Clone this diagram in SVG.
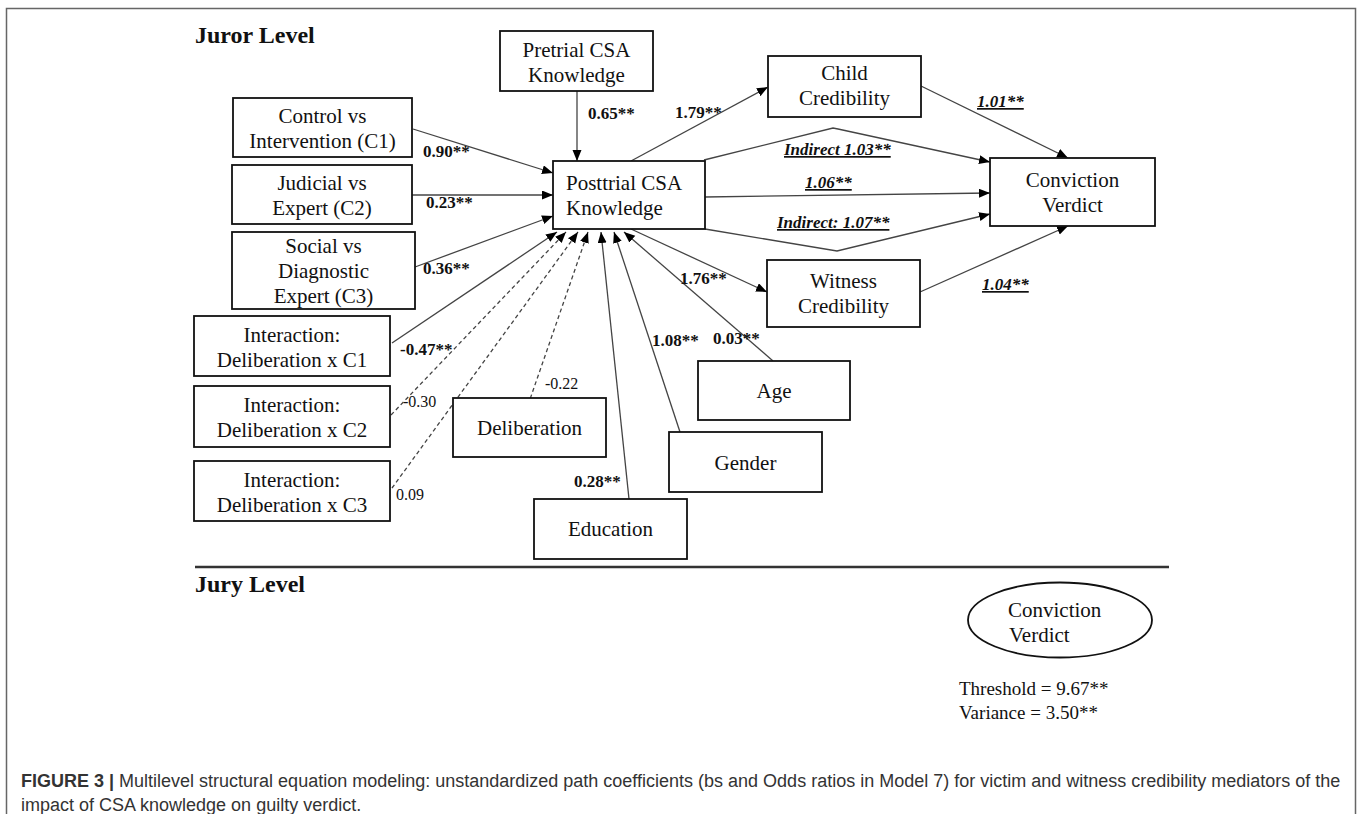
<svg xmlns="http://www.w3.org/2000/svg" width="1357" height="814" viewBox="0 0 1357 814">
<style>
.box{fill:#fff;stroke:#111;stroke-width:1.8}
.t{font-family:"Liberation Serif","Times New Roman",serif;font-size:21px;fill:#111}
.c{text-anchor:middle}
.lb{font-family:"Liberation Serif","Times New Roman",serif;font-size:17px;font-weight:bold;fill:#111}
.lr{font-family:"Liberation Serif","Times New Roman",serif;font-size:16px;fill:#111}
.li{font-family:"Liberation Serif","Times New Roman",serif;font-size:17px;font-weight:bold;font-style:italic;text-decoration:underline;fill:#111}
.h{font-family:"Liberation Serif","Times New Roman",serif;font-size:24px;font-weight:bold;fill:#111}
.e{fill:none;stroke:#444;stroke-width:1.3;marker-end:url(#ah)}
.d{stroke-dasharray:4 3}
.cap{font-family:"Liberation Sans",Arial,sans-serif;font-size:18px;fill:#333}
</style>
<defs>
<marker id="ah" markerUnits="userSpaceOnUse" markerWidth="12" markerHeight="10" refX="11" refY="4.5" orient="auto">
<path d="M0,0 L11,4.5 L0,9 z" fill="#000"/>
</marker>
</defs>
<rect width="1357" height="814" fill="#fff"/>
<path d="M6.5,814 V8.5 H1355.5 V814" fill="none" stroke="#666" stroke-width="1.5"/>

<text class="h" x="195" y="43">Juror Level</text>
<text class="h" x="195" y="592">Jury Level</text>
<line x1="195" y1="567" x2="1169" y2="567" stroke="#333" stroke-width="2.5"/>

<g id="connectors">
<line class="e" x1="577" y1="91" x2="577" y2="161"/>
<line class="e" x1="413" y1="129" x2="553" y2="173"/>
<line class="e" x1="412" y1="195" x2="553" y2="195"/>
<line class="e" x1="415" y1="267" x2="553" y2="216"/>
<line class="e" x1="392" y1="343" x2="557" y2="232"/>
<line class="e d" x1="391" y1="415" x2="566" y2="232"/>
<line class="e d" x1="392" y1="488" x2="578" y2="232"/>
<line class="e d" x1="528" y1="405" x2="588" y2="232"/>
<line class="e" x1="629" y1="499" x2="601" y2="232"/>
<line class="e" x1="680" y1="432" x2="614" y2="232"/>
<line class="e" x1="773" y1="361" x2="624" y2="232"/>
<line class="e" x1="631" y1="229" x2="767" y2="292"/>
<line class="e" x1="631" y1="161" x2="768" y2="87"/>
<polyline class="e" points="704,160 833,128 838,129 990,162"/>
<line class="e" x1="705" y1="197" x2="990" y2="193"/>
<polyline class="e" points="705,229 837,251 990,214"/>
<line class="e" x1="921" y1="86" x2="1068" y2="158"/>
<line class="e" x1="920" y1="292" x2="1068" y2="226"/>
</g>

<g id="labels">
<text class="lb" x="588" y="119">0.65**</text>
<text class="lb" x="675" y="118">1.79**</text>
<text class="lb" x="423" y="157">0.90**</text>
<text class="lb" x="426" y="208">0.23**</text>
<text class="lb" x="423" y="274">0.36**</text>
<text class="lb" x="400" y="355">-0.47**</text>
<text class="lr" x="403" y="407">-0.30</text>
<text class="lr" x="396" y="500">0.09</text>
<text class="lr" x="545" y="389">-0.22</text>
<text class="lb" x="574" y="487">0.28**</text>
<text class="lb" x="652" y="346">1.08**</text>
<text class="lb" x="713" y="344">0.03**</text>
<text class="lb" x="680" y="284">1.76**</text>
<text class="li" x="977" y="107">1.01**</text>
<text class="li" x="784" y="155">Indirect 1.03**</text>
<text class="li" x="805" y="188">1.06**</text>
<text class="li" x="777" y="228">Indirect: 1.07**</text>
<text class="li" x="982" y="290">1.04**</text>
</g>

<g id="pretrial"><rect class="box" x="500" y="31" width="153" height="60"/>
<text class="t c" x="576.5" y="57">Pretrial CSA</text><text class="t c" x="576.5" y="82">Knowledge</text></g>

<g id="c1"><rect class="box" x="233" y="98" width="179" height="59"/>
<text class="t c" x="322.5" y="123">Control vs</text><text class="t c" x="322.5" y="148">Intervention (C1)</text></g>

<g id="c2"><rect class="box" x="232" y="165" width="180" height="59"/>
<text class="t c" x="322" y="190">Judicial vs</text><text class="t c" x="322" y="215">Expert (C2)</text></g>

<g id="c3"><rect class="box" x="232" y="232" width="183" height="77"/>
<text class="t c" x="323.5" y="253">Social vs</text><text class="t c" x="323.5" y="278">Diagnostic</text><text class="t c" x="323.5" y="303">Expert (C3)</text></g>

<g id="posttrial"><rect class="box" x="553" y="161" width="152" height="68"/>
<text class="t" x="566" y="190">Posttrial CSA</text><text class="t" x="566" y="215">Knowledge</text></g>

<g id="child"><rect class="box" x="768" y="56" width="153" height="61"/>
<text class="t c" x="844.5" y="80">Child</text><text class="t c" x="844.5" y="105">Credibility</text></g>

<g id="verdict"><rect class="box" x="990" y="158" width="165" height="68"/>
<text class="t c" x="1072.5" y="187">Conviction</text><text class="t c" x="1072.5" y="212">Verdict</text></g>

<g id="witness"><rect class="box" x="767" y="260" width="153" height="67"/>
<text class="t c" x="843.5" y="288">Witness</text><text class="t c" x="843.5" y="313">Credibility</text></g>

<g id="int1"><rect class="box" x="194" y="316" width="196" height="60"/>
<text class="t c" x="292" y="342">Interaction:</text><text class="t c" x="292" y="367">Deliberation x C1</text></g>

<g id="int2"><rect class="box" x="194" y="386" width="196" height="61"/>
<text class="t c" x="292" y="412">Interaction:</text><text class="t c" x="292" y="437">Deliberation x C2</text></g>

<g id="int3"><rect class="box" x="194" y="461" width="196" height="60"/>
<text class="t c" x="292" y="487">Interaction:</text><text class="t c" x="292" y="512">Deliberation x C3</text></g>

<g id="deliberation"><rect class="box" x="453" y="398" width="153" height="59"/>
<text class="t c" x="529.5" y="435">Deliberation</text></g>

<g id="age"><rect class="box" x="698" y="361" width="152" height="59"/>
<text class="t c" x="774" y="398">Age</text></g>

<g id="gender"><rect class="box" x="669" y="432" width="153" height="60"/>
<text class="t c" x="745.5" y="470">Gender</text></g>

<g id="education"><rect class="box" x="534" y="499" width="153" height="60"/>
<text class="t c" x="610.5" y="536">Education</text></g>

<g id="jury-verdict"><ellipse cx="1060" cy="620" rx="92" ry="37.5" fill="#fff" stroke="#111" stroke-width="1.8"/>
<text class="t" x="1008" y="617">Conviction</text><text class="t" x="1009" y="642">Verdict</text></g>

<text class="t" x="959" y="695" style="font-size:19px">Threshold = 9.67**</text>
<text class="t" x="959" y="719" style="font-size:19px">Variance = 3.50**</text>

<text class="cap" x="21" y="787"><tspan font-weight="bold">FIGURE 3 |</tspan> Multilevel structural equation modeling: unstandardized path coefficients (bs and Odds ratios in Model 7) for victim and witness credibility mediators of the</text>
<text class="cap" x="21" y="811">impact of CSA knowledge on guilty verdict.</text>
</svg>
